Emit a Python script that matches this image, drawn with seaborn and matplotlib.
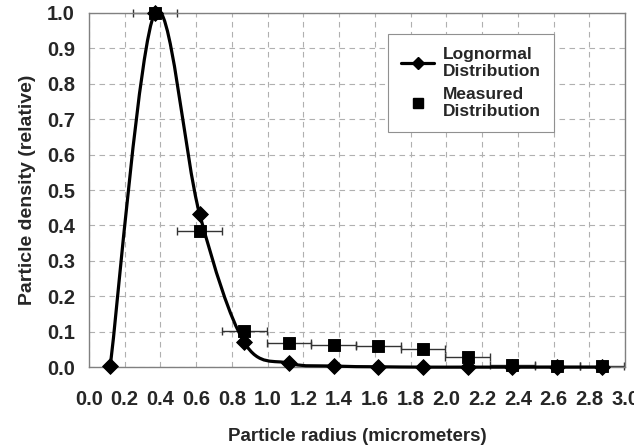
import matplotlib
matplotlib.use("Agg")
import matplotlib.pyplot as plt
from matplotlib.path import Path
from matplotlib.patches import PathPatch
from matplotlib.lines import Line2D
import numpy as np
import seaborn as sns
import pandas as pd

# lognormal fit (diamonds)
logn_x = [0.12, 0.37, 0.62, 0.87, 1.12, 1.37, 1.62, 1.87, 2.12, 2.37, 2.62, 2.87]
logn_y = [0.002, 1.0, 0.432, 0.070, 0.011, 0.003, 0.001, 0.0, 0.0, 0.0, 0.0, 0.0]

# measured (squares) with x error half-widths
meas_x = [0.37, 0.62, 0.87, 1.12, 1.37, 1.62, 1.87, 2.12, 2.37, 2.62, 2.87]
meas_y = [1.0, 0.385, 0.103, 0.069, 0.062, 0.060, 0.051, 0.029, 0.007, 0.004, 0.004]
meas_xerr = [0.125] * len(meas_x)

xticks = np.round(np.arange(0, 3.01, 0.2), 1)
yticks = np.round(np.arange(0, 1.01, 0.1), 1)

sns.set_style("white")
plt.rcParams.update({'font.family': ['Liberation Sans', 'DejaVu Sans'],
                     'font.weight': 'bold',
                     'axes.labelweight': 'bold'})

fig, ax = plt.subplots(figsize=(6.34, 4.45), dpi=100)
fig.subplots_adjust(left=0.140, right=0.986, top=0.971, bottom=0.175)

ax.set_xlim(0, 3.0)
ax.set_ylim(0, 1.0)
ax.set_xticks(xticks)
ax.set_yticks(yticks)
ax.set_xticklabels([f"{v:.1f}" for v in xticks], fontsize=14.5, fontweight='bold')
ax.set_yticklabels([f"{v:.1f}" for v in yticks], fontsize=14.5, fontweight='bold')
ax.grid(True, color='#b0b0b0', linestyle=(0, (5, 4)), linewidth=0.8)
for s in ax.spines.values():
    s.set_color('#808080')
    s.set_linewidth(1.0)
ax.tick_params(axis='x', direction='inout', length=7, color='#808080', pad=13)
ax.tick_params(axis='y', direction='out', length=5, color='#808080', pad=5)

# smoothed curve through the lognormal points (Catmull-Rom style bezier)
px = np.array(logn_x)
py = np.array(logn_y)
verts = [(px[0], py[0])]
codes = [Path.MOVETO]
n = len(px)
for i in range(n - 1):
    i0 = max(i - 1, 0)
    i3 = min(i + 2, n - 1)
    c1 = (px[i] + (px[i + 1] - px[i0]) / 6, py[i] + (py[i + 1] - py[i0]) / 6)
    c2 = (px[i + 1] - (px[i3] - px[i]) / 6, py[i + 1] - (py[i3] - py[i]) / 6)
    verts += [c1, c2, (px[i + 1], py[i + 1])]
    codes += [Path.CURVE4] * 3
ax.add_patch(PathPatch(Path(verts, codes), facecolor='none', edgecolor='black',
                       lw=2.3, clip_on=False, zorder=3))

df_l = pd.DataFrame({'x': logn_x, 'y': logn_y})
df_m = pd.DataFrame({'x': meas_x, 'y': meas_y})

ax.errorbar(meas_x, meas_y, xerr=meas_xerr, fmt='none', ecolor='#333333',
            elinewidth=1.0, capsize=3, capthick=1.0, zorder=2, clip_on=False)
sns.scatterplot(data=df_l, x='x', y='y', ax=ax, marker='D', s=65, color='black',
                edgecolor='black', zorder=4, clip_on=False)
sns.scatterplot(data=df_m, x='x', y='y', ax=ax, marker='s', s=65, color='black',
                edgecolor='black', zorder=5, clip_on=False)

ax.set_xlabel('Particle radius (micrometers)', fontsize=13.5, fontweight='bold', labelpad=14)
ax.set_ylabel('Particle density (relative)', fontsize=14, fontweight='bold', labelpad=8)

handles = [Line2D([], [], color='black', lw=2.3, marker='D', markersize=6.5),
           Line2D([], [], color='black', lw=0, marker='s', markersize=6.5)]
leg = ax.legend(handles, ['Lognormal\nDistribution', 'Measured\nDistribution'],
                loc='upper left', bbox_to_anchor=(0.558, 0.941), borderaxespad=0,
                frameon=True, fancybox=False, edgecolor='#909090', framealpha=1,
                prop={'family': 'Liberation Sans', 'weight': 'bold', 'size': 12.5},
                handlelength=1.9, handletextpad=0.5, labelspacing=0.45, borderpad=0.75)
leg.get_frame().set_linewidth(0.8)

fig.savefig('out.png', dpi=100)
